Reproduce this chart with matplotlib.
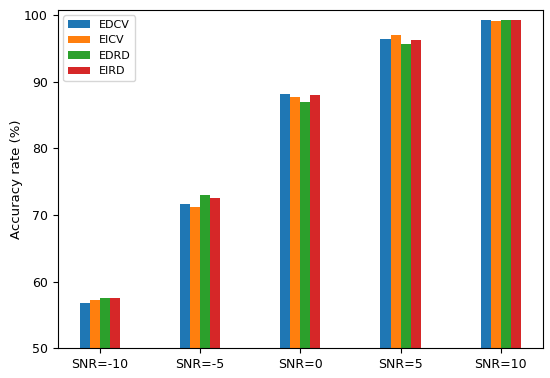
import matplotlib
matplotlib.use("Agg")
import matplotlib.pyplot as plt
import numpy as np

categories = ["SNR=-10", "SNR=-5", "SNR=0", "SNR=5", "SNR=10"]
series_names = ["EDCV", "EICV", "EDRD", "EIRD"]
edcv = [56.8, 71.7, 88.2, 96.4, 99.2]
eicv = [57.3, 71.2, 87.7, 97.0, 99.1]
edrd = [57.5, 73.0, 87.0, 95.6, 99.3]
eird = [57.6, 72.6, 88.0, 96.2, 99.2]
colors = ["#1f77b4", "#ff7f0e", "#2ca02c", "#d62728"]

fig = plt.figure(figsize=(5.5, 3.78), dpi=100)
ax = fig.add_axes([0.105, 0.079, 0.882, 0.895])
x = np.arange(len(categories))
w = 0.1
for i, (name, vals) in enumerate(zip(series_names, [edcv, eicv, edrd, eird])):
    ax.bar(x + (i - 1.5) * w, vals, w, label=name, color=colors[i])
ax.set_xticks(x)
ax.set_xticklabels(categories, fontsize=9)
ax.tick_params(axis="y", labelsize=9)
ax.set_ylim(50, 100.8)
ax.set_yticks([50, 60, 70, 80, 90, 100])
ax.set_ylabel("Accuracy rate (%)", fontsize=9.5, labelpad=1)
ax.legend(loc="upper left", fontsize=8, handlelength=2.0)
fig.savefig("out.png", dpi=100)
